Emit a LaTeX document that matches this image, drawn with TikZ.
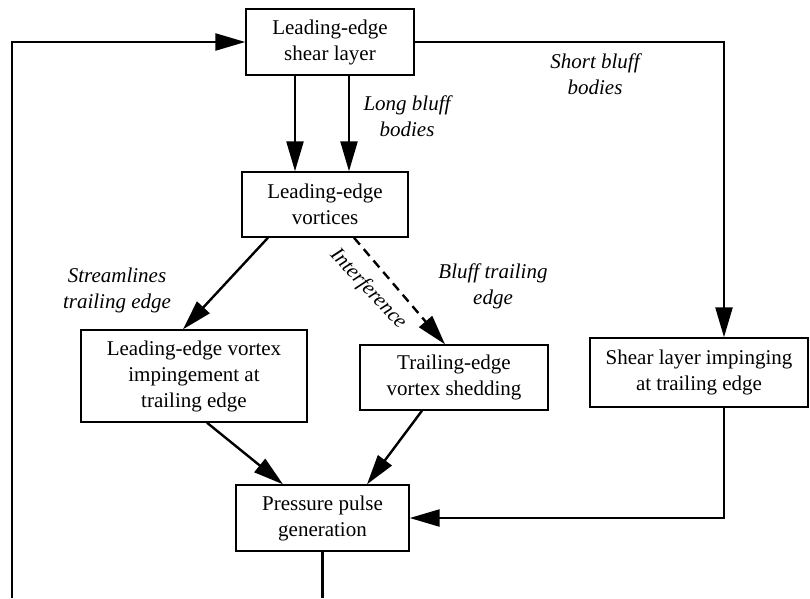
\documentclass[tikz,border=0pt]{standalone}
\usepackage{fontspec}
\setmainfont{Liberation Serif}
\usetikzlibrary{arrows.meta}
\begin{document}
\begin{tikzpicture}[x=1pt,y=-1pt,
  box/.style={draw, line width=1.4pt, inner sep=0pt, align=center, font=\fontsize{21}{26}\selectfont},
  lbl/.style={align=center, inner sep=0pt, font=\fontsize{21}{26}\selectfont\itshape},
  conn/.style={line width=2.4pt, -{Triangle[length=30pt,width=17pt]}},
  plainline/.style={line width=2.4pt}]
\useasboundingbox (0,0) rectangle (810,598);
\clip (0,0) rectangle (810,598);
% boxes
\node[box, minimum width=168pt, minimum height=66pt] (A) at (330,42) {Leading-edge\\shear layer};
\node[box, minimum width=166pt, minimum height=65pt] (B) at (325,204.5) {Leading-edge\\vortices};
\node[box, minimum width=226pt, minimum height=92pt] (C) at (194,376) {Leading-edge vortex\\impingement at\\trailing edge};
\node[box, minimum width=188pt, minimum height=65pt] (D) at (454,377.5) {Trailing-edge\\vortex shedding};
\node[box, minimum width=218pt, minimum height=69pt] (E) at (699,372.5) {Shear layer impinging\\at trailing edge};
\node[box, minimum width=173pt, minimum height=66pt] (F) at (322.5,518) {Pressure pulse\\generation};
% labels
\node[lbl] (L1) at (407,116) {Long bluff\\bodies};
\node[lbl] (L2) at (595,74) {Short bluff\\bodies};
\node[lbl] (L3) at (117,290) {Streamlines\\trailing edge};
\node[lbl] (L4) at (493,286.5) {Bluff trailing\\edge};
\node[lbl, rotate=-47] (L5) at (368,289) {Interference};
% helper coordinates
\coordinate (c295) at (295,0);
\coordinate (c349) at (349,0);
\coordinate (c268) at (268,0);
\coordinate (c183) at (183,0);
\coordinate (c354) at (354,0);
\coordinate (c445) at (445,0);
\coordinate (c207) at (207,0);
\coordinate (c283) at (283,0);
\coordinate (c422) at (422,0);
\coordinate (c367) at (367,0);
\coordinate (c724) at (724,0);
\coordinate (bot) at (0,598);
\coordinate (bl) at (12,598);
% connectors
\draw[conn] (A.south -| c295) -- (B.north -| c295);
\draw[conn] (A.south -| c349) -- (B.north -| c349);
\draw[conn] (B.south -| c268) -- (C.north -| c183);
\draw[conn, dash pattern=on 9pt off 6pt] (B.south -| c354) -- (D.north -| c445);
\draw[conn] (C.south -| c207) -- (F.north -| c283);
\draw[conn] (D.south -| c422) -- (F.north -| c367);
\draw[conn] (A.east) -| (E.north -| c724);
\draw[conn] (E.south -| c724) |- (F.east);
\draw[plainline] (F.south) -- (F.south |- bot);
\draw[conn] (bl) |- (A.west);
\end{tikzpicture}
\end{document}
